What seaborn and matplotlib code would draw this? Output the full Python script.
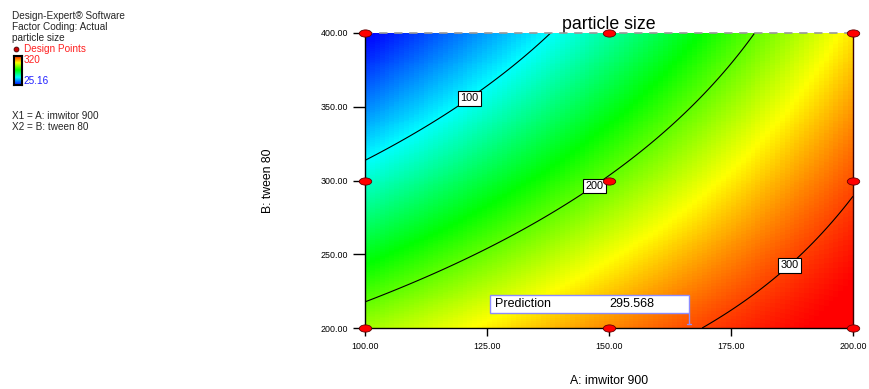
import numpy as np
import matplotlib
matplotlib.use("Agg")
import matplotlib.pyplot as plt
import seaborn as sns
from matplotlib.colors import LinearSegmentedColormap
from matplotlib.patches import Rectangle
from matplotlib.path import Path
from matplotlib.transforms import Affine2D

# ---- data -------------------------------------------------------------
# factor ranges (actual units)
imwitor_range = [100.0, 200.0]          # A: imwitor 900
tween_range = [200.0, 400.0]            # B: tween 80
x_ticks = [100, 125, 150, 175, 200]
y_ticks = [200, 250, 300, 350, 400]

# design points (3 x 3 factorial)
design_a = [100, 150, 200, 100, 150, 200, 100, 150, 200]
design_b = [200, 200, 200, 300, 300, 300, 400, 400, 400]

# fitted response model for particle size in coded factors
# terms: 1, A, B, AB, A^2, B^2, A^2B, AB^2, A^3, B^3
model_terms = ["1", "A", "B", "AB", "A2", "B2", "A2B", "AB2", "A3", "B3"]
model_coefs = [202.69, 93.723, -80.089, 30.048, 1.969, 0.769, 9.43, -7.541, -2.643, 3.743]

contour_levels = [100, 200, 300]
contour_label_pos = [(121.1, 357.3), (146.5, 298.6), (186.7, 243.4)]

response_min = 25.16
response_max = 320.0

prediction_point = (166.4, 200.0)
prediction_value = 295.568

# ---- style ------------------------------------------------------------
sns.set_theme(style="white")
plt.rcParams['font.family'] = ['Liberation Sans', 'DejaVu Sans']

de_cmap = LinearSegmentedColormap.from_list(
    "design_expert", ["#0000ff", "#00ffff", "#00ff00", "#ffff00", "#ff0000"])


def particle_size(A, B):
    a = (A - 150.0) / 50.0
    b = (B - 300.0) / 100.0
    basis = [np.ones_like(a), a, b, a * b, a**2, b**2, a**2 * b, a * b**2, a**3, b**3]
    return sum(c * t for c, t in zip(model_coefs, basis))


fig = plt.figure(figsize=(8.7, 3.89), dpi=100)
W, H = 870.0, 389.0
ax = fig.add_axes([365 / W, 1 - 328 / H, (853 - 365) / W, (328 - 33) / H])

# colour field, drawn as columns like the original rendering
nx, ny = 100, 300
gx = np.linspace(imwitor_range[0], imwitor_range[1], nx)
gy = np.linspace(tween_range[0], tween_range[1], ny)
GX, GY = np.meshgrid(gx, gy)
Z = particle_size(GX, GY)
ax.imshow(Z, origin="lower", extent=[*imwitor_range, *tween_range], aspect="auto",
          cmap=de_cmap, vmin=response_min, vmax=response_max, interpolation="nearest", zorder=0)

# contour lines
fx = np.linspace(imwitor_range[0], imwitor_range[1], 400)
fy = np.linspace(tween_range[0], tween_range[1], 400)
FX, FY = np.meshgrid(fx, fy)
cs = ax.contour(FX, FY, particle_size(FX, FY), levels=contour_levels, colors="black",
                linewidths=0.8, zorder=2)
labels = ax.clabel(cs, fmt="%d", inline=False, fontsize=7.8, manual=contour_label_pos)
for t in labels:
    t.set_rotation(0)
    t.set_color("black")
    t.set_bbox(dict(boxstyle="square,pad=0.22", facecolor="white", edgecolor="black", linewidth=0.8))
    t.set_zorder(5)

# design points
ellipse = Path.unit_circle().transformed(Affine2D().scale(1.0, 0.58))
sns.scatterplot(x=design_a, y=design_b, ax=ax, marker=ellipse, s=80, color="#ff0000",
                edgecolor="#600000", linewidth=0.6, clip_on=False, zorder=6, legend=False)

# prediction flag
px, py = prediction_point
box_left, box_bottom, box_top = 125.6, 210.2, 222.4
ax.add_patch(Rectangle((box_left, box_bottom), px - box_left, box_top - box_bottom,
                       facecolor="white", edgecolor="#8c8cff", linewidth=1.0, zorder=7))
ax.plot([px, px], [box_bottom, py + 2.5], color="#8c8cff", linewidth=1.0, zorder=7)
ax.plot([px - 0.5, px + 0.5], [py + 2.5, py + 2.5], color="#8c8cff", linewidth=1.0, zorder=7)
ax.text(box_left + 1.0, (box_bottom + box_top) / 2, "Prediction", fontsize=9,
        va="center", ha="left", color="black", zorder=8)
ax.text(box_left + 24.4, (box_bottom + box_top) / 2, f"{prediction_value:.3f}", fontsize=9,
        va="center", ha="left", color="black", zorder=8)

# axes, ticks, labels
ax.set_xlim(*imwitor_range)
ax.set_ylim(*tween_range)
ax.set_xticks(x_ticks)
ax.set_yticks(y_ticks)
ax.set_xticklabels([f"{v:.2f}" for v in x_ticks])
ax.set_yticklabels([f"{v:.2f}" for v in y_ticks])
ax.tick_params(axis="x", direction="out", length=6, width=1, pad=4, labelsize=6.4,
               colors="black", bottom=True)
ax.tick_params(axis="y", direction="out", length=9, width=1, pad=3, labelsize=6.4,
               colors="black", left=True)
for side in ["left", "bottom", "right"]:
    ax.spines[side].set_color("black")
    ax.spines[side].set_linewidth(1.0)
ax.spines["right"].set_color("#3a0000")
ax.spines["top"].set_color("#999999")
ax.spines["top"].set_linestyle((0, (4, 5)))
ax.spines["top"].set_linewidth(1.2)
for sp in ax.spines.values():
    sp.set_zorder(4)

ax.set_xlabel("A: imwitor 900", fontsize=8.8, color="black")
ax.set_ylabel("B: tween 80", fontsize=8.8, color="black")
ax.xaxis.set_label_coords(0.5, (328 - 381) / 295.0)
ax.xaxis.label.set_va("center")
ax.yaxis.set_label_coords((268 - 365) / 488.0, 0.5)
ax.yaxis.label.set_va("center")
ax.set_title("particle size", fontsize=12.8, color="black", pad=3)

# side legend block
def fy_(y):
    return 1 - y / H

fs = 7.2
fig.text(12 / W, fy_(15.7), "Design-Expert\u00ae Software", fontsize=fs, va="center", ha="left")
fig.text(12 / W, fy_(26.7), "Factor Coding: Actual", fontsize=fs, va="center", ha="left")
fig.text(12 / W, fy_(37.7), "particle size", fontsize=fs, va="center", ha="left")
fig.lines.append(plt.Line2D([15.7 / W], [fy_(49)], marker="o", markersize=3.5,
                            markerfacecolor="#cc0000", markeredgecolor="#400000",
                            markeredgewidth=0.6, transform=fig.transFigure))
fig.text(24 / W, fy_(49), "Design Points", fontsize=fs, va="center", ha="left", color="#ff2020")

cax = fig.add_axes([14 / W, fy_(85.3), 7.7 / W, 29.3 / H])
grad = np.linspace(response_min, response_max, 100).reshape(-1, 1)
cax.imshow(grad, origin="lower", aspect="auto", cmap=de_cmap, vmin=response_min, vmax=response_max)
cax.set_xticks([])
cax.set_yticks([])
for sp in cax.spines.values():
    sp.set_color("black")
    sp.set_linewidth(1.5)
    sp.set_visible(True)
fig.text(23.3 / W, fy_(60), f"{response_max:g}", fontsize=fs, va="center", ha="left", color="#ff2020")
fig.text(23.3 / W, fy_(81.3), f"{response_min:g}", fontsize=fs, va="center", ha="left", color="#2020ff")

fig.text(12 / W, fy_(116), "X1 = A: imwitor 900", fontsize=fs, va="center", ha="left")
fig.text(12 / W, fy_(127), "X2 = B: tween 80", fontsize=fs, va="center", ha="left")

fig.savefig("out.png", dpi=100, facecolor="white")
